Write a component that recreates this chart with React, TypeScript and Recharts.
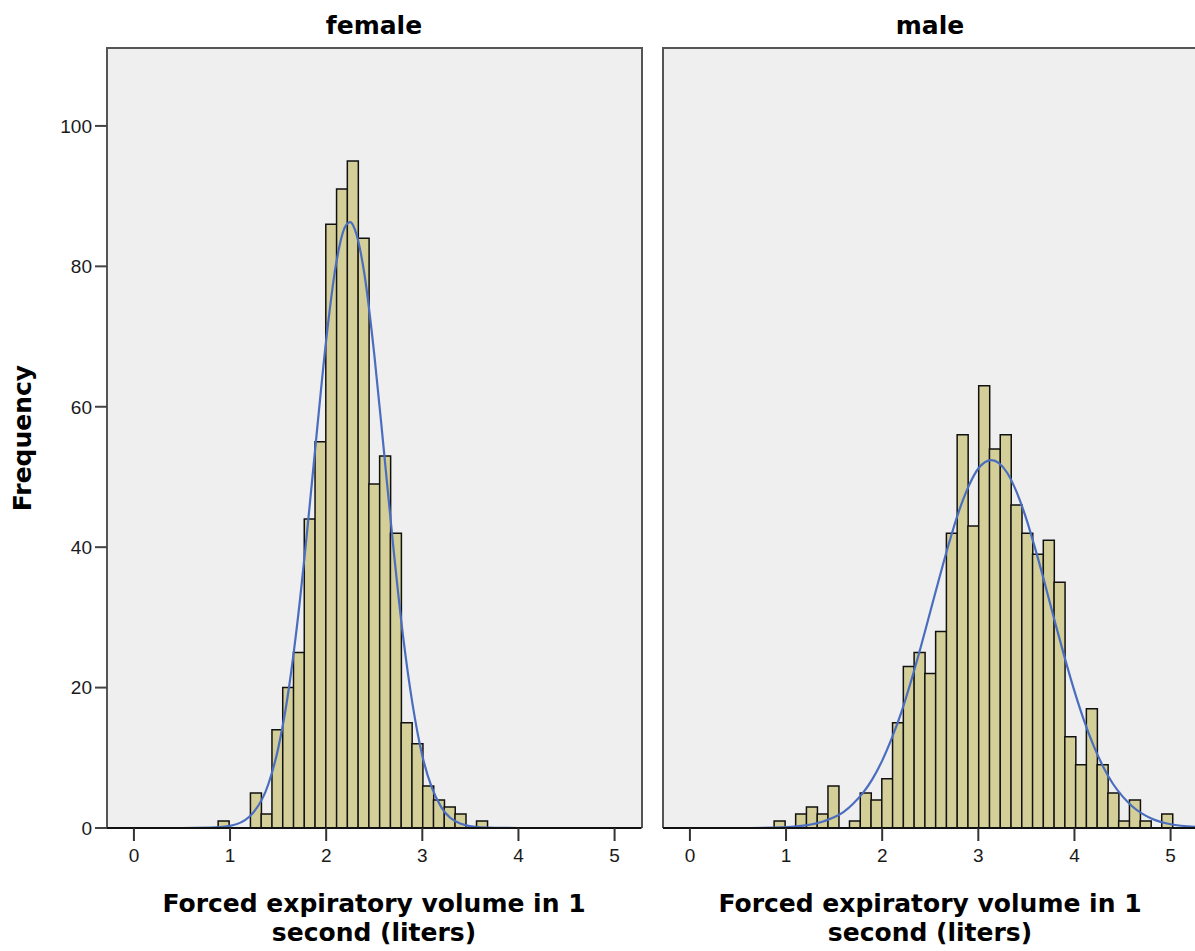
import React from 'react';
import { ComposedChart, Bar, Line, XAxis, YAxis } from 'recharts';

// Histogram bin centres (liters), shared by both panels
const binCenters = [
  0.932, 1.044, 1.156, 1.268, 1.38, 1.492, 1.604, 1.716, 1.828, 1.94,
  2.052, 2.164, 2.276, 2.388, 2.5, 2.612, 2.724, 2.836, 2.948, 3.06,
  3.172, 3.284, 3.396, 3.508, 3.62, 3.732, 3.844, 3.956, 4.068, 4.18,
  4.292, 4.404, 4.516, 4.628, 4.74, 4.852, 4.964,
];

const femaleCounts = [
  1, 0, 0, 5, 2, 14, 20, 25, 44, 55,
  86, 91, 95, 84, 49, 53, 42, 15, 12, 6,
  4, 3, 2, 0, 1, 0, 0, 0, 0, 0,
  0, 0, 0, 0, 0, 0, 0,
];

const maleCounts = [
  1, 0, 2, 3, 2, 6, 0, 1, 5, 4,
  7, 15, 23, 25, 22, 28, 42, 56, 43, 63,
  54, 56, 46, 42, 39, 41, 35, 13, 9, 17,
  9, 5, 1, 4, 1, 0, 2,
];

// Normal curve
const femaleCurveX = [-0.28, 0.5, 0.8, 1.0, 1.2, 1.4, 1.5, 1.6, 1.7, 1.8, 1.9, 2.0, 2.1, 2.2, 2.25, 2.3, 2.4, 2.5, 2.6, 2.7, 2.8, 2.9, 3.0, 3.1, 3.2, 3.4, 3.6, 4.0, 5.28];
const femaleCurveY = [0, 0, 0.04, 0.3, 1.6, 6.3, 11.3, 18.8, 29.2, 42.0, 56.0, 69.5, 80.1, 85.7, 86.3, 85.2, 78.7, 67.5, 53.8, 39.8, 27.3, 17.5, 10.3, 5.7, 2.9, 0.6, 0.1, 0, 0];

const maleCurveX = [-0.28, 0.5, 1.0, 1.2, 1.4, 1.6, 1.7, 1.8, 1.9, 2.0, 2.1, 2.2, 2.3, 2.4, 2.5, 2.6, 2.7, 2.8, 2.9, 3.0, 3.135, 3.3, 3.4, 3.5, 3.6, 3.7, 3.8, 3.9, 4.0, 4.1, 4.2, 4.3, 4.4, 4.5, 4.6, 4.8, 5.0, 5.28];
const maleCurveY = [0, 0, 0.13, 0.37, 1.0, 2.3, 3.5, 5.0, 7.0, 9.6, 12.8, 16.5, 20.9, 25.7, 30.8, 35.9, 40.8, 45.2, 48.7, 51.2, 52.4, 50.6, 47.8, 44.0, 39.4, 34.4, 29.2, 24.2, 19.5, 15.3, 11.7, 8.7, 6.3, 4.5, 3.1, 1.35, 0.53, 0.15];

const xTicks = [0, 1, 2, 3, 4, 5];
const yTicks = [0, 20, 40, 60, 80, 100];
const panelTitles = ['female', 'male'];
const xTitleLines = ['Forced expiratory volume in 1', 'second (liters)'];
const yTitle = 'Frequency';

const X_DOMAIN: [number, number] = [-0.28, 5.28];
const Y_DOMAIN: [number, number] = [0, 111.1];

const BAR_FILL = '#d4cf98';
const CURVE = '#4a6dbf';
const TITLE_FONT = '"DejaVu Sans", Verdana, sans-serif';
const TICK_FONT = '"Liberation Sans", Arial, sans-serif';

type PanelProps = {
  counts: number[];
  curveX: number[];
  curveY: number[];
  showY: boolean;
  left: number;
  width: number;
  marginLeft: number;
  marginRight: number;
};

function Panel({ counts, curveX, curveY, showY, left, width, marginLeft, marginRight }: PanelProps) {
  const bars = binCenters.map((x, i) => ({ x, f: counts[i] }));
  const curve = curveX.map((x, i) => ({ cx: x, cy: curveY[i] }));
  return (
    <div style={{ position: 'absolute', left, top: 0 }}>
      <ComposedChart
        width={width}
        height={951}
        data={bars}
        margin={{ top: 48, right: marginRight, bottom: 83, left: marginLeft }}
        barCategoryGap={0}
        barGap={0}
      >
        <XAxis
          xAxisId="b"
          dataKey="x"
          type="number"
          domain={X_DOMAIN}
          allowDataOverflow
          ticks={xTicks}
          interval={0}
          tickSize={13}
          tickMargin={8}
          height={40}
          axisLine={{ stroke: '#111', strokeWidth: 2 }}
          tickLine={{ stroke: '#333', strokeWidth: 2 }}
          tick={{ fontSize: 19, fill: '#1a1a1a', fontFamily: TICK_FONT }}
        />
        <XAxis xAxisId="c" dataKey="cx" type="number" domain={X_DOMAIN} allowDataOverflow hide />
        <YAxis
          yAxisId="y"
          type="number"
          domain={Y_DOMAIN}
          allowDataOverflow
          ticks={yTicks}
          interval={0}
          hide={!showY}
          width={showY ? 107 : 0}
          tickSize={12}
          tickMargin={3}
          axisLine={false}
          tickLine={{ stroke: '#444', strokeWidth: 2 }}
          tick={{ fontSize: 19, fill: '#1a1a1a', fontFamily: TICK_FONT }}
        />
        <Bar
          xAxisId="b"
          yAxisId="y"
          dataKey="f"
          fill={BAR_FILL}
          stroke="#111"
          strokeWidth={1.5}
          isAnimationActive={false}
        />
        <Line
          xAxisId="c"
          yAxisId="y"
          data={curve}
          dataKey="cy"
          type="monotone"
          stroke={CURVE}
          strokeWidth={2.2}
          dot={false}
          activeDot={false}
          isAnimationActive={false}
        />
      </ComposedChart>
    </div>
  );
}

const frameStyle = (left: number): React.CSSProperties => ({
  position: 'absolute',
  left,
  top: 47,
  width: 537,
  height: 781,
  boxSizing: 'border-box',
  background: '#efefef',
  borderLeft: '2px solid #555',
  borderTop: '2px solid #555',
  borderRight: '2px solid #555',
});

export default function App() {
  const titleStyle = { fontFamily: TITLE_FONT, fontWeight: 700, fontSize: 25, fill: '#000' } as const;
  return (
    <div
      style={{
        position: 'fixed',
        left: 0,
        top: 0,
        width: 1195,
        height: 951,
        overflow: 'hidden',
        background: '#fff',
      }}
    >
      <div style={frameStyle(106)} />
      <div style={frameStyle(662)} />
      <Panel
        counts={femaleCounts}
        curveX={femaleCurveX}
        curveY={femaleCurveY}
        showY
        left={0}
        width={660}
        marginLeft={0}
        marginRight={18.5}
      />
      <Panel
        counts={maleCounts}
        curveX={maleCurveX}
        curveY={maleCurveY}
        showY={false}
        left={600}
        width={600}
        marginLeft={63}
        marginRight={2.5}
      />
      <svg
        width={1195}
        height={951}
        style={{ position: 'absolute', left: 0, top: 0, pointerEvents: 'none' }}
      >
        <text x={374} y={34} textAnchor="middle" style={titleStyle}>{panelTitles[0]}</text>
        <text x={930} y={34} textAnchor="middle" style={titleStyle}>{panelTitles[1]}</text>
        <text x={374} y={912} textAnchor="middle" style={titleStyle}>{xTitleLines[0]}</text>
        <text x={374} y={941} textAnchor="middle" style={titleStyle}>{xTitleLines[1]}</text>
        <text x={930} y={912} textAnchor="middle" style={titleStyle}>{xTitleLines[0]}</text>
        <text x={930} y={941} textAnchor="middle" style={titleStyle}>{xTitleLines[1]}</text>
        <text x={31} y={438} textAnchor="middle" transform="rotate(-90 31 438)" style={titleStyle}>{yTitle}</text>
      </svg>
    </div>
  );
}
